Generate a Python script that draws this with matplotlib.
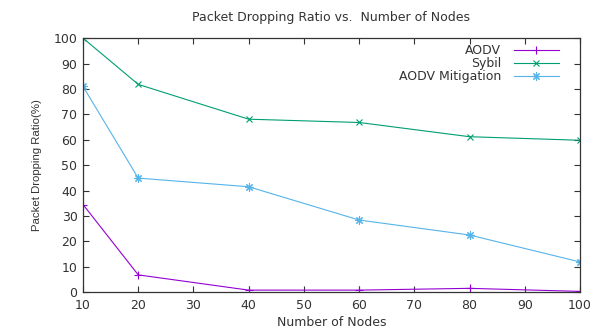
import matplotlib
matplotlib.use("Agg")
import matplotlib.pyplot as plt

nodes = [10, 20, 40, 60, 80, 100]
aodv = [34.5, 6.8, 0.8, 0.8, 1.5, 0.3]
sybil = [100, 81.8, 68.1, 66.8, 61.2, 59.8]
mitigation = [81, 44.9, 41.5, 28.4, 22.5, 11.9]

x_ticks = list(range(10, 101, 10))
y_ticks = list(range(0, 101, 10))

plt.rcParams['font.family'] = ['DejaVu Sans']
txt = '#333333'
fig = plt.figure(figsize=(5.93, 3.29), dpi=100)
ax = fig.add_axes([0.14, 0.112, 0.838, 0.772])

ax.plot(nodes, aodv, color='#9400d3', lw=0.8, marker='+', ms=6, mew=0.8, label='AODV')
ax.plot(nodes, sybil, color='#009e73', lw=0.8, marker='x', ms=4.5, mew=0.8, label='Sybil')
ax.plot(nodes, mitigation, color='#56b4e9', lw=0.8, marker=(8, 2, 0), ms=6, mew=0.8, label='AODV Mitigation')

ax.set_xlim(10, 100)
ax.set_ylim(0, 100)
ax.set_xticks(x_ticks)
ax.set_yticks(y_ticks)
ax.tick_params(direction='in', length=4, width=0.8, top=True, right=True, labelsize=9, colors=txt, pad=4)
ax.tick_params(axis='x', pad=5)
for s in ax.spines.values():
    s.set_linewidth(0.9)
    s.set_color('#333333')

ax.set_title('Packet Dropping Ratio vs.  Number of Nodes', fontsize=9, color=txt, pad=12)
ax.set_xlabel('Number of Nodes', fontsize=9, color=txt, labelpad=3)
ax.set_ylabel('Packet Dropping Ratio(%)', fontsize=8.2, color=txt, labelpad=8,
              family='Liberation Sans')

leg = ax.legend(loc='upper right', frameon=False, markerfirst=False, numpoints=1,
                fontsize=9, handlelength=3.6, handletextpad=1.0, labelspacing=0.0,
                borderaxespad=0.0, bbox_to_anchor=(0.967, 0.995))
for t in leg.get_texts():
    t.set_color(txt)

fig.savefig('out.png', dpi=100)
